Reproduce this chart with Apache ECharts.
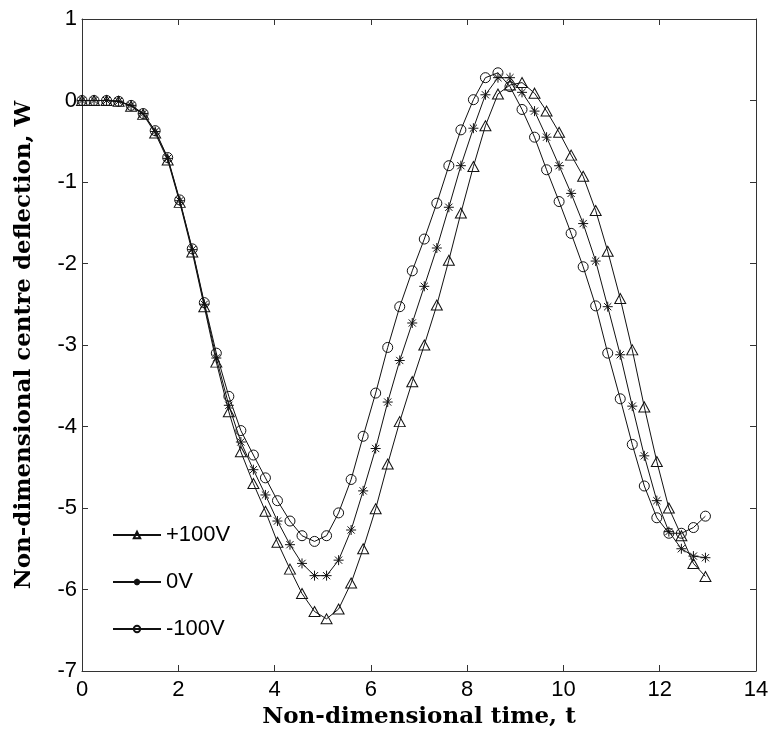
<!DOCTYPE html>
<html>
<head>
<meta charset="utf-8">
<script src="https://cdn.jsdelivr.net/npm/echarts@6/dist/echarts.min.js"></script>
<style>
  html, body { margin: 0; padding: 0; background: #fff; }
  #chart { width: 773px; height: 737px; }
</style>
</head>
<body>
<div id="chart"></div>
<script>
// time samples (non-dimensional)
const tVals = [
  0, 0.25, 0.51, 0.76, 1.02, 1.27, 1.52, 1.78, 2.03, 2.29,
  2.54, 2.79, 3.05, 3.30, 3.56, 3.81, 4.06, 4.32, 4.57, 4.83,
  5.08, 5.33, 5.59, 5.84, 6.10, 6.35, 6.60, 6.86, 7.11, 7.37,
  7.62, 7.87, 8.13, 8.38, 8.64, 8.89, 9.14, 9.40, 9.65, 9.91,
  10.16, 10.41, 10.67, 10.92, 11.18, 11.43, 11.68, 11.94, 12.19, 12.45,
  12.70, 12.95
];

// +100V (triangles)
const wPlus100 = [
  0, 0, 0, -0.01, -0.07, -0.17, -0.40, -0.73, -1.25, -1.86,
  -2.53, -3.21, -3.82, -4.31, -4.70, -5.04, -5.42, -5.75, -6.05, -6.27,
  -6.36, -6.24, -5.92, -5.50, -5.01, -4.46, -3.94, -3.45, -3.00, -2.51,
  -1.96, -1.38, -0.81, -0.31, 0.08, 0.19, 0.22, 0.09, -0.13, -0.39,
  -0.67, -0.93, -1.35, -1.85, -2.43, -3.06, -3.76, -4.43, -5.00, -5.34,
  -5.68, -5.84
];

// 0V (stars)
const wZero = [
  0, 0, 0, -0.01, -0.06, -0.16, -0.38, -0.71, -1.23, -1.83,
  -2.50, -3.16, -3.74, -4.19, -4.53, -4.84, -5.16, -5.45, -5.68, -5.83,
  -5.83, -5.64, -5.27, -4.79, -4.27, -3.70, -3.19, -2.73, -2.28, -1.81,
  -1.31, -0.80, -0.34, 0.07, 0.28, 0.28, 0.10, -0.13, -0.45, -0.80,
  -1.14, -1.51, -1.97, -2.53, -3.12, -3.75, -4.36, -4.91, -5.29, -5.50,
  -5.59, -5.61
];

// -100V (circles)
const wMinus100 = [
  0, 0, 0, -0.01, -0.06, -0.16, -0.37, -0.70, -1.22, -1.82,
  -2.48, -3.10, -3.63, -4.05, -4.35, -4.63, -4.91, -5.16, -5.34, -5.41,
  -5.34, -5.06, -4.65, -4.12, -3.59, -3.03, -2.53, -2.09, -1.70, -1.26,
  -0.80, -0.36, 0.01, 0.28, 0.34, 0.17, -0.11, -0.45, -0.85, -1.24,
  -1.63, -2.04, -2.52, -3.10, -3.66, -4.22, -4.73, -5.12, -5.31, -5.31,
  -5.24, -5.10
];

const legendNames = ['+100V', '0V', '-100V'];

const chart = echarts.init(document.getElementById('chart'));

function pairs(ys) {
  return tVals.map((t, i) => [t, ys[i]]);
}

const starPath = 'path://M0,-5L0,5M-5,0L5,0M-3.6,-3.6L3.6,3.6M-3.6,3.6L3.6,-3.6';

const tickFont = { color: '#000', fontSize: 22, fontFamily: 'Liberation Sans, Arial, sans-serif' };
const nameFont = { color: '#000', fontSize: 23, fontWeight: 'bold', fontFamily: 'DejaVu Serif, serif' };
const axisLineStyle = { color: '#333', width: 1 };

function boxAxis(extra) {
  return Object.assign({
    type: 'value',
    axisLine: { show: true, onZero: false, lineStyle: axisLineStyle },
    axisTick: { show: true, inside: true, length: 6, lineStyle: axisLineStyle },
    splitLine: { show: false }
  }, extra);
}

function baseSeries(name, ys, symbol, size) {
  return {
    name: name,
    type: 'line',
    data: pairs(ys),
    symbol: symbol,
    symbolSize: size,
    showAllSymbol: true,
    lineStyle: { color: '#111', width: 1 },
    itemStyle: { color: 'rgba(0,0,0,0)', borderColor: '#111', borderWidth: 1 },
    emphasis: { disabled: true }
  };
}

const option = {
  animation: false,
  backgroundColor: '#fff',
  grid: { left: 82, right: 17, top: 19, bottom: 66 },
  legend: {
    data: legendNames,
    orient: 'vertical',
    left: 112,
    top: 524,
    padding: 0,
    itemWidth: 48,
    itemHeight: 8,
    itemGap: 25,
    textStyle: { color: '#000', fontSize: 22, lineHeight: 22, fontFamily: 'Liberation Sans, Arial, sans-serif' }
  },
  xAxis: [
    boxAxis({
      min: 0, max: 14, interval: 2,
      name: 'Non-dimensional time, t',
      nameLocation: 'middle', nameGap: 32,
      nameTextStyle: nameFont,
      axisLabel: Object.assign({ margin: 8 }, tickFont)
    }),
    boxAxis({
      min: 0, max: 14, interval: 2, position: 'top',
      axisLabel: { show: false }
    })
  ],
  yAxis: [
    boxAxis({
      min: -7, max: 1, interval: 1,
      name: 'Non-dimensional centre deflection, W',
      nameLocation: 'middle', nameGap: 46,
      nameTextStyle: nameFont,
      axisLabel: Object.assign({ margin: 5 }, tickFont)
    }),
    boxAxis({
      min: -7, max: 1, interval: 1, position: 'right',
      axisLabel: { show: false }
    })
  ],
  series: [
    baseSeries('+100V', wPlus100, 'triangle', [11, 10]),
    baseSeries('0V', wZero, starPath, 10),
    baseSeries('-100V', wMinus100, 'circle', 10)
  ]
};

chart.setOption(option);
</script>
</body>
</html>
